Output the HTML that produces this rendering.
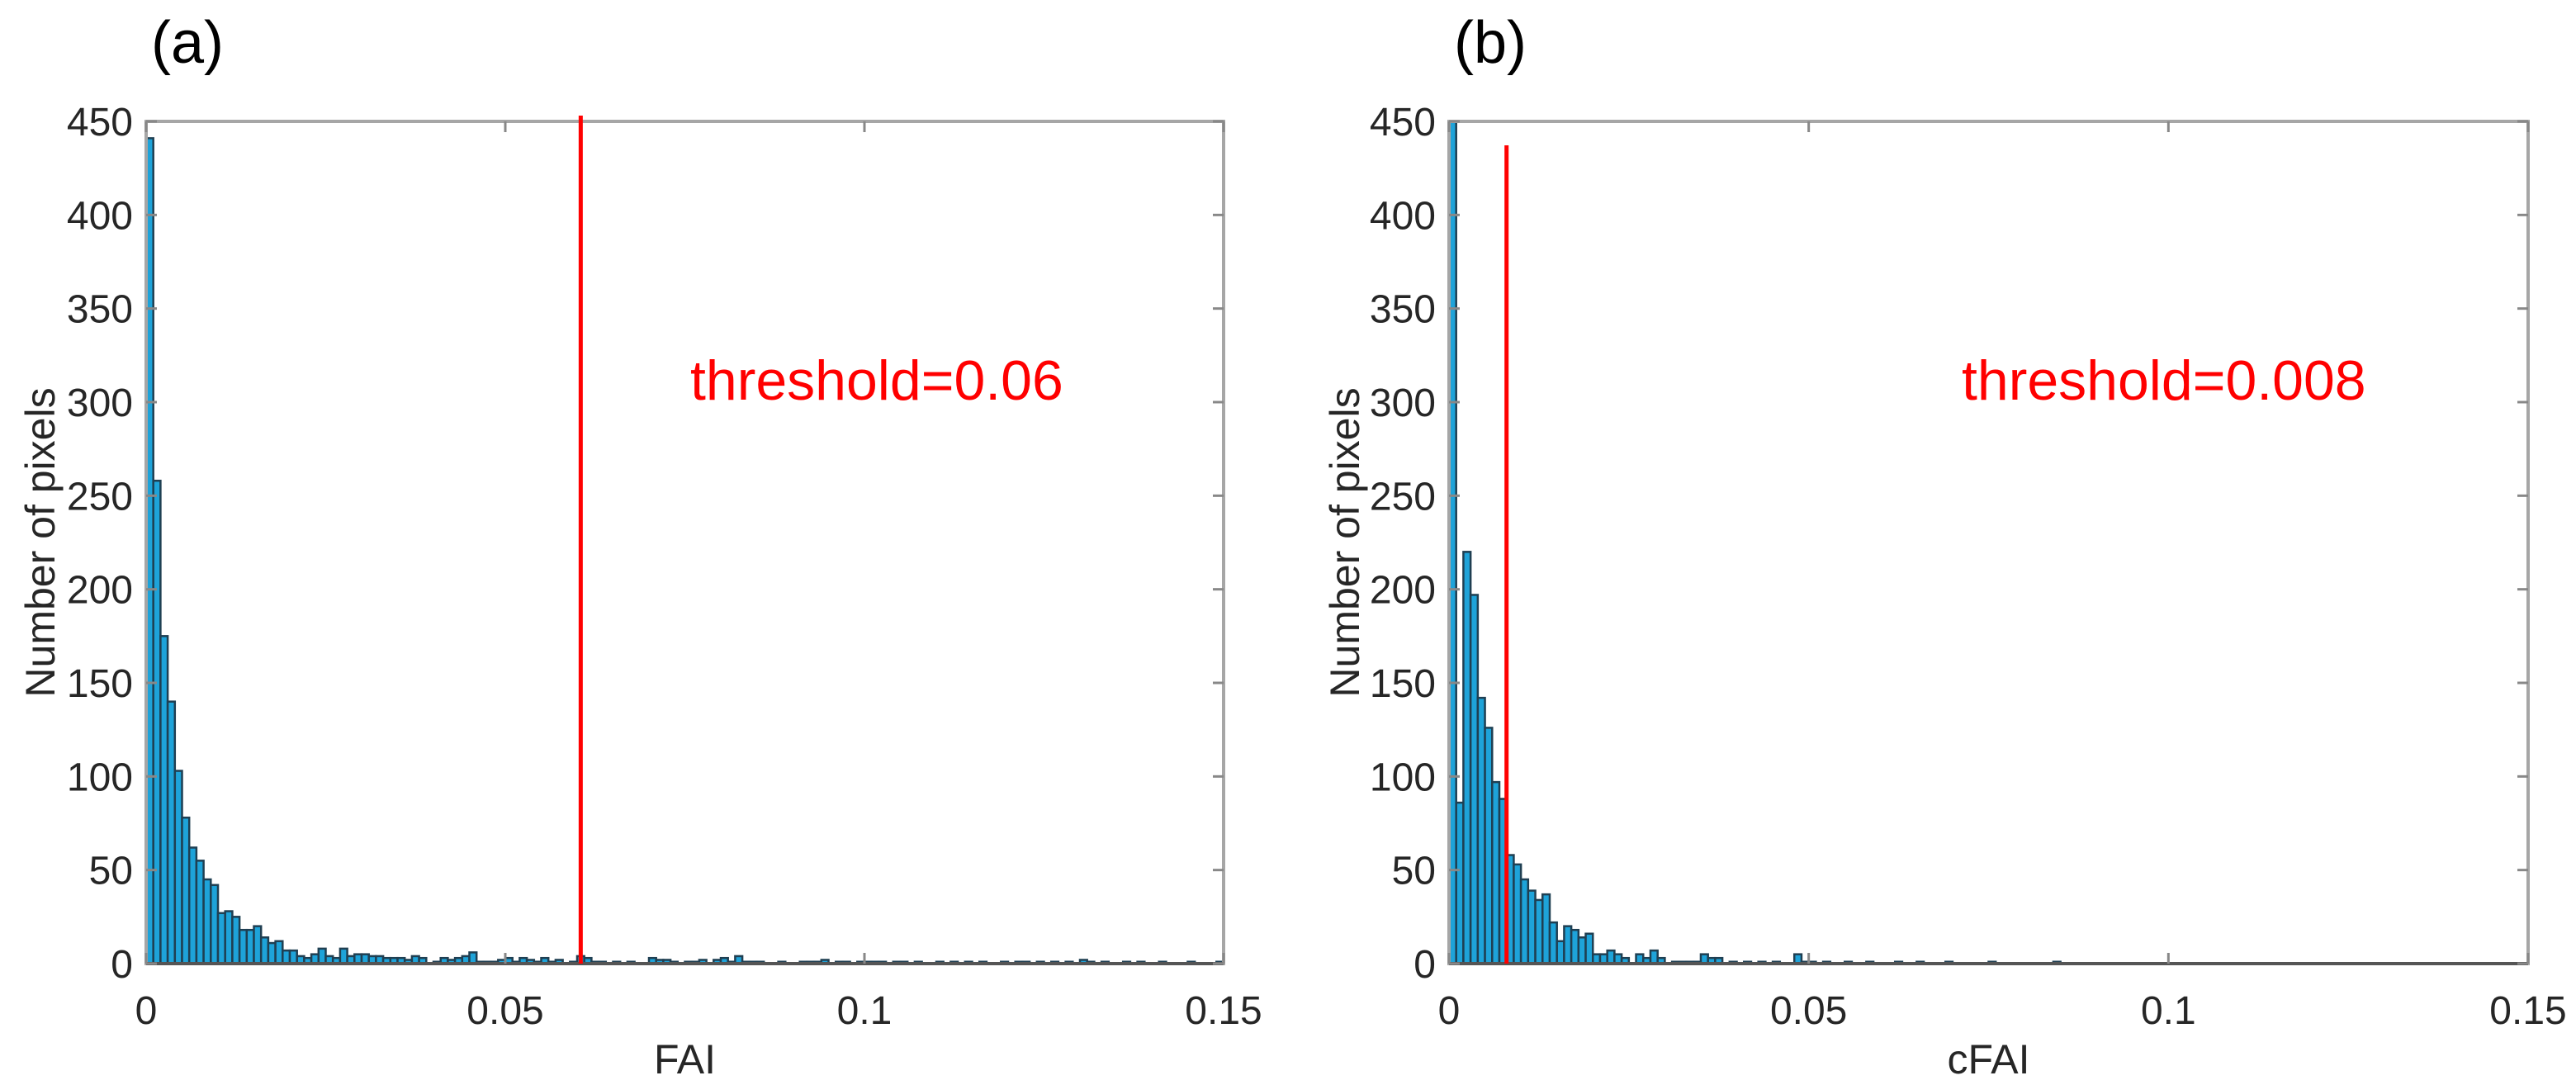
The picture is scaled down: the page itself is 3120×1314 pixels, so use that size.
<!DOCTYPE html>
<html><head><meta charset="utf-8"><style>
html,body{margin:0;padding:0;background:#fff}
svg{display:block}
text{font-family:"Liberation Sans",sans-serif}
</style></head><body>
<svg id="fig" width="3120" height="1314" viewBox="0 0 3120 1314" xmlns="http://www.w3.org/2000/svg"></svg>
<script>
const binWidth = 0.001;
const xTicks = [0, 0.05, 0.1, 0.15];
const xTickLabels = ["0", "0.05", "0.1", "0.15"];
const yTicks = [0, 50, 100, 150, 200, 250, 300, 350, 400, 450];
const faiCounts = [441,258,175,140,103,78,62,55,45,42,27,28,25,18,18,20,14,11,12,7,7,4,3,5,8,4,3,8,4,5,5,4,4,3,3,3,2,4,3,0,1,3,2,3,4,6,1,1,1,2,3,1,3,2,1,3,1,2,0,1,4,3,1,1,0,1,0,1,0,0,3,2,2,1,0,1,1,2,0,2,3,1,4,1,1,1,0,0,1,0,0,1,1,1,2,0,1,1,0,1,1,1,1,0,1,1,0,1,0,0,1,0,1,0,1,0,1,0,0,1,0,1,1,0,1,0,1,0,1,0,2,1,0,1,0,0,1,0,1,0,0,1,0,0,0,1,0,0,0,1];
const cfaiCounts = [480,86,220,197,142,126,97,88,58,53,45,39,34,37,22,12,20,18,14,16,5,5,7,5,3,0,5,3,7,3,0,1,1,1,1,5,3,3,0,1,0,1,0,1,0,1,0,0,5,1,1,0,1,0,0,1,0,0,1,0,0,0,1,0,0,1,0,0,0,1,0,0,0,0,0,1,0,0,0,0,0,0,0,0,1,0,0,0,0,0,0,0,0,0,0,0,0,0,0,0,0,0,0,0,0,0,0,0,0,0,0,0,0,0,0,0,0,0,0,0,0,0,0,0,0,0,0,0,0,0,0,0,0,0,0,0,0,0,0,0,0,0,0,0,0,0,0,0,0,0];
const thresholds = [0.0605, 0.008];
const thresholdLabels = ["threshold=0.06", "threshold=0.008"];
const panelLabels = ["(a)", "(b)"];
const xTitles = ["FAI", "cFAI"];

const NS = "http://www.w3.org/2000/svg";
const svg = document.getElementById('fig');
function mk(tag, attrs, parent){const e=document.createElementNS(NS,tag);for(const k in attrs)e.setAttribute(k,attrs[k]);(parent||svg).appendChild(e);return e;}

const panels = [
  {x0:177, x1:1482, counts:faiCounts, yl:48, thrX:836},
  {x0:1755, x1:3062, counts:cfaiCounts, yl:1628, thrX:2376}
];
const Y0=1167, Y1=147, XMAX=0.15, YMAX=450;

panels.forEach((p,i)=>{
  const g = mk('g',{});
  
  
  const sx = v => p.x0 + v/XMAX*(p.x1-p.x0);
  const sy = v => Y0 - v/YMAX*(Y0-Y1);
  const clipId='clip'+i;
  const cp = mk('clipPath',{id:clipId},g);
  mk('rect',{x:p.x0,y:Y1,width:p.x1-p.x0,height:Y0-Y1},cp);
  const bars = mk('g',{'clip-path':'url(#'+clipId+')'},g);
  
  
  p.counts.forEach((c,k)=>{
    const xa=sx(k*binWidth), xb=sx((k+1)*binWidth);
    const r = mk('rect',{x:xa,y:sy(c),width:xb-xa,height:Y0-sy(c),fill:'#1ea3d9',stroke:'#1f3f52','stroke-width':2.5},bars);
    
    
  });
  const box = mk('rect',{x:p.x0,y:Y1,width:p.x1-p.x0,height:Y0-Y1,fill:'none',stroke:'#a6a6a6','stroke-width':4},g);
  
  
  mk('line',{x1:p.x0,y1:Y0,x2:p.x1,y2:Y0,stroke:'#555','stroke-width':4},g);
  xTicks.forEach((t,k)=>{
    const x=sx(t);
    mk('line',{x1:x,y1:Y0,x2:x,y2:Y0-13,stroke:'#888','stroke-width':3},g);
    mk('line',{x1:x,y1:Y1,x2:x,y2:Y1+13,stroke:'#888','stroke-width':3},g);
    const tx = mk('text',{x:x,y:1240,'font-size':48,fill:'#262626','text-anchor':'middle'},g);
    tx.textContent = xTickLabels[k];
    
    
  });
  yTicks.forEach(t=>{
    const y=sy(t);
    mk('line',{x1:p.x0,y1:y,x2:p.x0+13,y2:y,stroke:'#888','stroke-width':3},g);
    mk('line',{x1:p.x1,y1:y,x2:p.x1-13,y2:y,stroke:'#888','stroke-width':3},g);
    const ty = mk('text',{x:p.x0-16,y:y+17,'font-size':48,fill:'#262626','text-anchor':'end'},g);
    ty.textContent = String(t);
    
    
  });
  const tl = mk('line',{x1:sx(thresholds[i]),y1:(i===0?140:176),x2:sx(thresholds[i]),y2:Y0,stroke:'#ff0000','stroke-width':5},g);
  
  
  const tt = mk('text',{x:p.thrX,y:484,'font-size':68,fill:'#ff0000'},g);
  tt.textContent = thresholdLabels[i];
  
  
  const xt = mk('text',{x:(p.x0+p.x1)/2,y:1300,'font-size':50,fill:'#262626','text-anchor':'middle'},g);
  xt.textContent = xTitles[i];
  
  
  const yt = mk('text',{x:0,y:0,'font-size':50,fill:'#262626','text-anchor':'middle',transform:'translate('+(p.yl+18)+','+(Y0+Y1)/2+') rotate(-90)'},g);
  yt.textContent = 'Number of pixels';
  
  
  const pl = mk('text',{x:p.x0+6,y:76,'font-size':72,fill:'#000'},g);
  pl.textContent = panelLabels[i];
  
  
});
</script>
</body></html>
